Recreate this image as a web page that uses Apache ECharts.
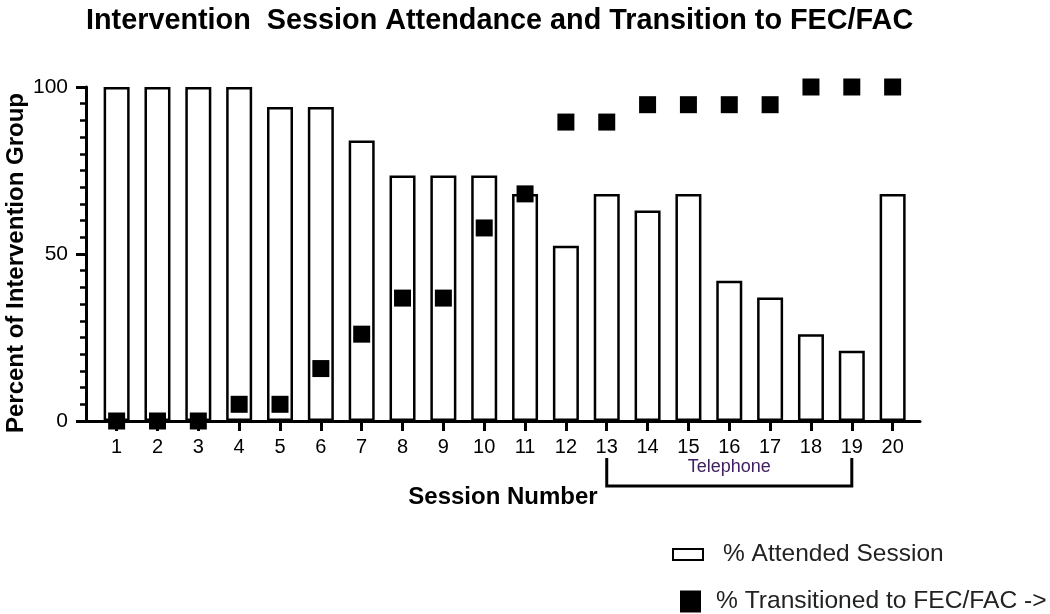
<!DOCTYPE html>
<html>
<head>
<meta charset="utf-8">
<script src="https://cdn.jsdelivr.net/npm/echarts@6/dist/echarts.min.js"></script>
<style>html,body{margin:0;padding:0;background:#fff}#c{width:1050px;height:614px}</style>
</head>
<body>
<div id="c"></div>
<script>
const sessions = [1,2,3,4,5,6,7,8,9,10,11,12,13,14,15,16,17,18,19,20];
const attended = [100,100,100,100,94,94,84,73.5,73.5,73.5,68,52.5,68,63,68,42,37,26,21,68];
const transitioned = [0,0,0,5,5,15.7,26,36.8,36.8,57.8,68,89.5,89.5,94.7,94.7,94.7,94.7,100,100,100];
const telephoneRange = [13, 19];
const yTicks = [0, 50, 100];

const FONT = "'Liberation Sans', Arial, sans-serif";
const chart = echarts.init(document.getElementById('c'), null, {renderer: 'canvas'});

const option = {
  backgroundColor: '#fff',
  animation: false,
  title: {
    text: 'Intervention  Session Attendance and Transition to FEC/FAC',
    left: 81, top: 2,
    textStyle: {fontFamily: FONT, fontSize: 28.8, fontWeight: 'bold', color: '#000'}
  },
  legend: [
    {
      data: [{name: '% Attended Session', icon: 'rect'}],
      left: 672, top: 542, padding: 0,
      itemWidth: 30, itemHeight: 11,
      textStyle: {fontFamily: FONT, fontSize: 24.5, color: '#222', lineHeight: 25, padding: [0,0,0,15]}
    },
    {
      data: [{name: '% Transitioned to FEC/FAC ->', icon: 'rect'}],
      left: 680, top: 589, padding: 0,
      itemWidth: 21, itemHeight: 22,
      textStyle: {fontFamily: FONT, fontSize: 24.6, color: '#222', lineHeight: 25, padding: [0,0,0,10]}
    }
  ],
  grid: {left: 86, right: 130, top: 87, bottom: 193, containLabel: false, outerBoundsMode: 'none'},
  xAxis: {
    type: 'value', min: 0.25, max: 20.67,
    name: 'Session Number', nameLocation: 'middle', nameGap: 64,
    nameTextStyle: {fontFamily: FONT, fontSize: 24, fontWeight: 'bold', color: '#000'},
    axisLine: {show: true, onZero: false, lineStyle: {color: '#000', width: 3}},
    axisTick: {show: true, customValues: sessions, length: 10, lineStyle: {color: '#000', width: 3}},
    axisLabel: {show: true, customValues: sessions, margin: 16,
      fontFamily: FONT, fontSize: 20, color: '#000'},
    splitLine: {show: false}
  },
  yAxis: {
    type: 'value', min: 0, max: 100, interval: 50,
    name: 'Percent of Intervention Group', nameLocation: 'middle', nameGap: 58,
    nameMoveOverlap: false,
    nameTextStyle: {fontFamily: FONT, fontSize: 24, fontWeight: 'bold', color: '#000', padding: [0, 18, 0, 0]},
    axisLine: {show: true, onZero: false, lineStyle: {color: '#000', width: 3}},
    axisTick: {show: true, length: 10, lineStyle: {color: '#000', width: 3}},
    minorTick: {show: true, splitNumber: 10, length: 6, lineStyle: {color: '#000', width: 2.5}},
    axisLabel: {fontFamily: FONT, fontSize: 21, color: '#000', margin: 18,
      customValues: yTicks},
    splitLine: {show: false}
  },
  series: [
    {
      name: '% Attended Session', type: 'bar', z: 2,
      data: sessions.map((s, i) => [s, attended[i]]),
      barWidth: 26,
      itemStyle: {color: '#fff', borderColor: '#000', borderWidth: 2.5}
    },
    {
      name: '% Transitioned to FEC/FAC ->', type: 'scatter', z: 5,
      symbol: 'rect', symbolSize: 17,
      data: sessions.map((s, i) => [s, transitioned[i]]),
      itemStyle: {color: '#000', opacity: 1}
    },
    {
      type: 'custom', z: 5, clip: false, silent: true,
      data: [[telephoneRange[0], telephoneRange[1], 0]],
      encode: {x: [0, 1], y: 2},
      renderItem: function (params, api) {
        const a = api.coord([api.value(0), 0]);
        const b = api.coord([api.value(1), 0]);
        return {
          type: 'group',
          children: [
            {type: 'polyline', shape: {points: [[a[0], a[1] + 37], [a[0], a[1] + 65], [b[0], b[1] + 65], [b[0], b[1] + 37]]},
             style: {stroke: '#000', lineWidth: 3, fill: null}},
            {type: 'text', style: {text: 'Telephone', x: (a[0] + b[0]) / 2, y: a[1] + 46,
             align: 'center', verticalAlign: 'middle', fill: '#402060', font: "18px 'Liberation Sans', Arial, sans-serif"}}
          ]
        };
      }
    }
  ]
};
chart.setOption(option);
</script>
</body>
</html>
